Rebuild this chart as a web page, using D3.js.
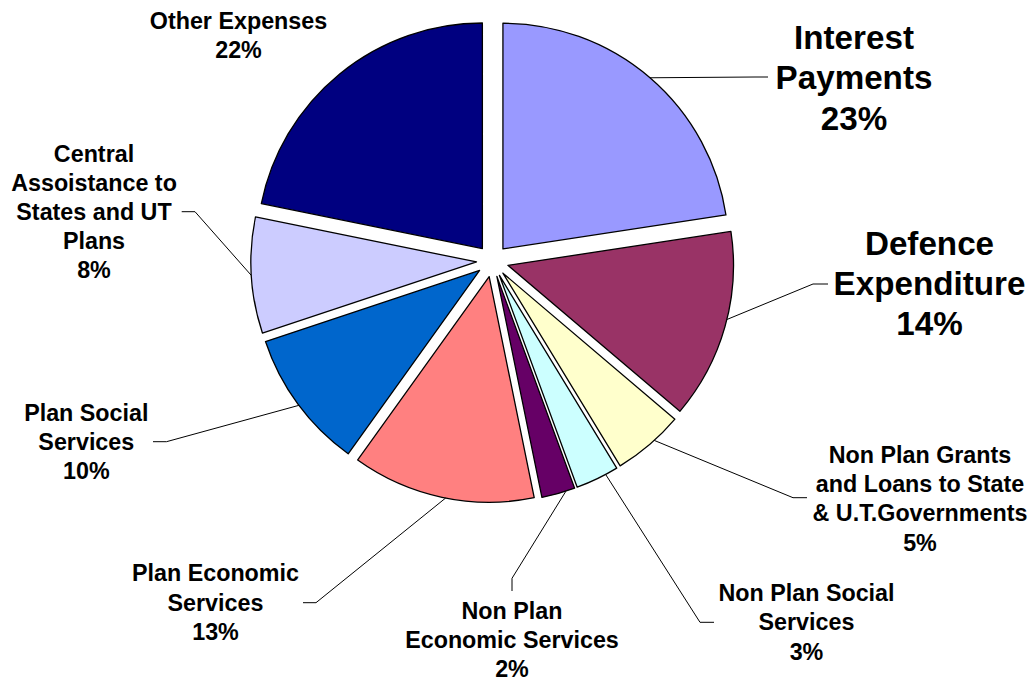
<!DOCTYPE html>
<html>
<head>
<meta charset="utf-8">
<script src="https://cdn.jsdelivr.net/npm/d3@7"></script>
<style>
  html, body { margin: 0; padding: 0; background: #fff; }
  svg { display: block; }
  text { font-family: "Liberation Sans", Arial, sans-serif; font-weight: bold; fill: #000; }
</style>
</head>
<body>
<svg id="chart" width="1032" height="681"></svg>
<script>
// Expenditure heads, clockwise from 12 o'clock
const categories = [
  "Interest Payments",
  "Defence Expenditure",
  "Non Plan Grants and Loans to State & U.T.Governments",
  "Non Plan Social Services",
  "Non Plan Economic Services",
  "Plan Economic Services",
  "Plan Social Services",
  "Central Assoistance to States and UT Plans",
  "Other Expenses"
];

// Share of total expenditure (%)
const shares = [22.6, 13.6, 5.1, 3.1, 2.4, 13.1, 10.0, 8.3, 21.8];

// Label text, broken into lines
const labelLines = [
  ["Interest", "Payments"],
  ["Defence", "Expenditure"],
  ["Non Plan Grants", "and Loans to State", "& U.T.Governments"],
  ["Non Plan Social", "Services"],
  ["Non Plan", "Economic Services"],
  ["Plan Economic", "Services"],
  ["Plan Social", "Services"],
  ["Central", "Assoistance to", "States and UT", "Plans"],
  ["Other Expenses"]
];

const colors = ["#9999FF", "#993366", "#FFFFCC", "#CCFFFF", "#660066",
                "#FF8080", "#0066CC", "#CCCCFF", "#000080"];

// Label placement: centre x, first baseline y, font size, line height,
// attach point along the slice arc (0..1), leader elbow and end.
const labelLayout = [
  { x: 854,   y: 48.5,  size: 33.2, lh: 40.5, t: 0.50, elbow: [755, 77],      end: [768, 77] },
  { x: 929.5, y: 255,   size: 33.2, lh: 40,   t: 0.46, elbow: [813, 284],     end: [828, 284] },
  { x: 920,   y: 462.7, size: 23.3, lh: 29.3, t: 0.41, elbow: [793, 497.7],   end: [807, 497.7] },
  { x: 806.5, y: 600.7, size: 23.3, lh: 29.6, t: 0.29, elbow: [700, 622.3],   end: [714, 622.3] },
  { x: 512,   y: 619.3, size: 23.3, lh: 28.7, t: 0.27, elbow: [512, 578.3],   end: [512, 591] },
  { x: 215.5, y: 581,   size: 23.3, lh: 29.5, t: 0.48, elbow: [316, 602.7],   end: [303, 602.7] },
  { x: 86.3,  y: 420.7, size: 23.3, lh: 29.3, t: 0.49, elbow: [166.5, 441.7], end: [153, 441.7] },
  { x: 94,    y: 161.7, size: 23.3, lh: 29,   t: 0.50, elbow: [195, 211.7],   end: [181.7, 211.7] },
  { x: 238.5, y: 29.3,  size: 23.3, lh: 29,   t: null }
];

const svg = d3.select("#chart");
const cx = 492.5, cy = 261;
const radius = 225.6;
const explode = 16;

const total = d3.sum(shares);
const pct = v => Math.round(v / total * 100) + "%";

const pie = d3.pie().sort(null).value(d => d.value).startAngle(0).endAngle(2 * Math.PI);
const data = categories.map((c, i) => ({ name: c, value: shares[i], i }));
const arcs = pie(data);
const arc = d3.arc().innerRadius(0).outerRadius(radius);

const g = svg.append("g").attr("transform", `translate(${cx},${cy})`);

// Each slice is pulled outward along its bisector
const offsetOf = a => {
  const mid = (a.startAngle + a.endAngle) / 2;
  return [explode * Math.sin(mid), -explode * Math.cos(mid)];
};

g.selectAll("path.slice")
  .data(arcs)
  .join("path")
  .attr("class", "slice")
  .attr("transform", a => { const o = offsetOf(a); return `translate(${o[0]},${o[1]})`; })
  .attr("d", arc)
  .attr("fill", a => colors[a.data.i])
  .attr("stroke", "#000")
  .attr("stroke-width", 1.3)
  .attr("stroke-linejoin", "round");

// Leader lines from the slice rim to the label
const leaders = arcs.filter(a => labelLayout[a.data.i].t !== null);
svg.selectAll("polyline.leader")
  .data(leaders)
  .join("polyline")
  .attr("class", "leader")
  .attr("fill", "none")
  .attr("stroke", "#000")
  .attr("stroke-width", 1)
  .attr("points", a => {
    const L = labelLayout[a.data.i];
    const o = offsetOf(a);
    const ang = a.startAngle + (a.endAngle - a.startAngle) * L.t;
    const sx = cx + o[0] + radius * Math.sin(ang);
    const sy = cy + o[1] - radius * Math.cos(ang);
    return [[sx, sy], L.elbow, L.end].map(p => p.join(",")).join(" ");
  });

// Labels: name lines followed by the percentage
const labels = svg.selectAll("text.label")
  .data(arcs)
  .join("text")
  .attr("class", "label")
  .attr("text-anchor", "middle")
  .attr("x", a => labelLayout[a.data.i].x)
  .attr("y", a => labelLayout[a.data.i].y)
  .style("font-size", a => labelLayout[a.data.i].size + "px");

labels.each(function(a) {
  const L = labelLayout[a.data.i];
  const lines = labelLines[a.data.i].concat([pct(a.data.value)]);
  d3.select(this).selectAll("tspan")
    .data(lines)
    .join("tspan")
    .attr("x", L.x)
    .attr("dy", (d, k) => k === 0 ? 0 : L.lh)
    .text(d => d);
});
</script>
</body>
</html>
